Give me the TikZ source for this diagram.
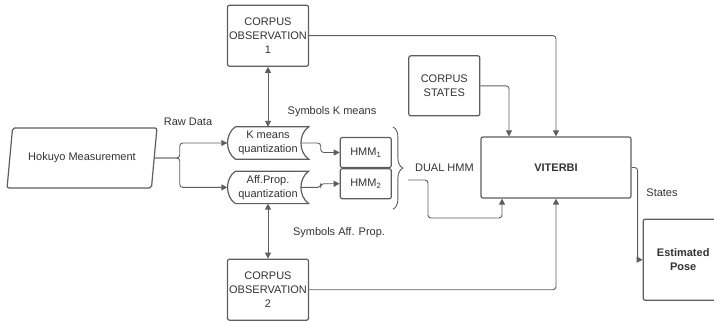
\documentclass[tikz,border=0pt]{standalone}
\usepackage{fontspec}
\setmainfont{Liberation Sans}
\usetikzlibrary{shapes.geometric, arrows.meta, positioning, calc, decorations.pathreplacing}
\definecolor{linegray}{HTML}{5E5E5E}
\definecolor{textgray}{HTML}{333333}

\begin{document}
\begin{tikzpicture}[
    x=1pt, y=-1pt,
    font=\fontsize{11}{14}\selectfont,
    text=textgray,
    box/.style={draw=linegray, rectangle, rounded corners=2pt, line width=1.2pt, align=center, inner sep=0pt, minimum width=81pt, minimum height=61pt},
    datain/.style={draw=linegray, trapezium, trapezium left angle=75, trapezium right angle=105, trapezium stretches=true, rounded corners=2pt, line width=1.2pt, minimum width=150pt, minimum height=60pt},
    stored/.style={rectangle, align=center, inner sep=0pt, minimum width=81pt, minimum height=32pt},
    hmmbox/.style={box, minimum width=51pt, minimum height=30pt},
    arrow/.style={-{Triangle[length=6pt,width=6pt]}, draw=linegray, line width=0.9pt, rounded corners=3pt},
    biarrow/.style={arrow, {Triangle[length=6pt,width=6pt]}-{Triangle[length=6pt,width=6pt]}},
    outline/.style={draw=linegray, line width=1.2pt},
    bracestyle/.style={draw=linegray, line width=0.9pt, decorate, decoration={brace, amplitude=10pt}},
    labelstyle/.style={inner sep=1pt}
]
\useasboundingbox (0,0) rectangle (714,321);

% Input and quantization
\node[datain] (hokuyo) at (82,158) {Hokuyo Measurement};
\node[stored] (kq) at (268,143) {K means\\quantization};
\node[stored, below=12pt of kq] (aq) {Aff.Prop.\\quantization};
\foreach \q in {kq,aq}
  \draw[outline] ([xshift=8pt]\q.north west) -- (\q.north east) to[bend right=55] (\q.south east)
    -- ([xshift=8pt]\q.south west) to[bend left=55] ([xshift=8pt]\q.north west);

% Corpora
\node[box, above=60pt of kq] (obs1) {CORPUS\\OBSERVATION\\1};
\node[box, below=55pt of aq] (obs2) {CORPUS\\OBSERVATION\\2};

% HMM pair
\node[hmmbox, right=31pt of kq, yshift=-9.5pt] (h1) {HMM\textsubscript{1}};
\node[hmmbox, below=0pt of h1] (h2) {HMM\textsubscript{2}};
\draw[bracestyle] ([xshift=1pt,yshift=10pt]h1.north east) -- ([xshift=1pt,yshift=-10pt]h2.south east);
\node[labelstyle, right=22pt of h1.south east] (dual) {DUAL HMM};
\coordinate (dualout) at (408,180);

% Decoding and output
\node[box, minimum width=150pt] (vit) at (556,167.5) {\bfseries VITERBI};
\node[box, minimum width=71pt, minimum height=60pt, above left=20pt and 0pt of vit.north west] (cs) {CORPUS\\STATES};
\node[box, minimum width=80pt, minimum height=81pt, below right=20pt and 11pt of vit.south east] (pose) {\bfseries Estimated\\\bfseries Pose};

% Labels
\node[labelstyle] (rawlbl) at (188,122) {Raw Data};
\node[labelstyle] (symk) at (332,112) {Symbols K means};
\node[labelstyle] (syma) at (339,233) {Symbols Aff. Prop.};
\node[labelstyle] (stlbl) at (662,193) {States};

% Connections
\draw[arrow] (hokuyo.east) -- ++(25,0) |- (kq.west);
\draw[arrow] (hokuyo.east) -- ++(25,0) |- (aq.west);
\draw[arrow] ([xshift=-8pt]kq.east) -- ++(20,0) |- (h1.west);
\draw[arrow] ([xshift=-8pt]aq.east) -- ++(20,0) |- (h2.west);
\draw[biarrow] (kq) -- (obs1);
\draw[biarrow] (aq) -- (obs2);
\draw[arrow] (obs1.east) -| (vit.north);
\draw[arrow] (obs2.east) -| (vit.south);
\draw[arrow] (cs.east) -| ([xshift=-47pt]vit.north);
\draw[arrow] (dualout) -| ++(20,38) -| ([xshift=-54pt]vit.south);
\draw[arrow] (vit.east) -- ++(6,0) |- (pose.west);

\end{tikzpicture}
\end{document}
